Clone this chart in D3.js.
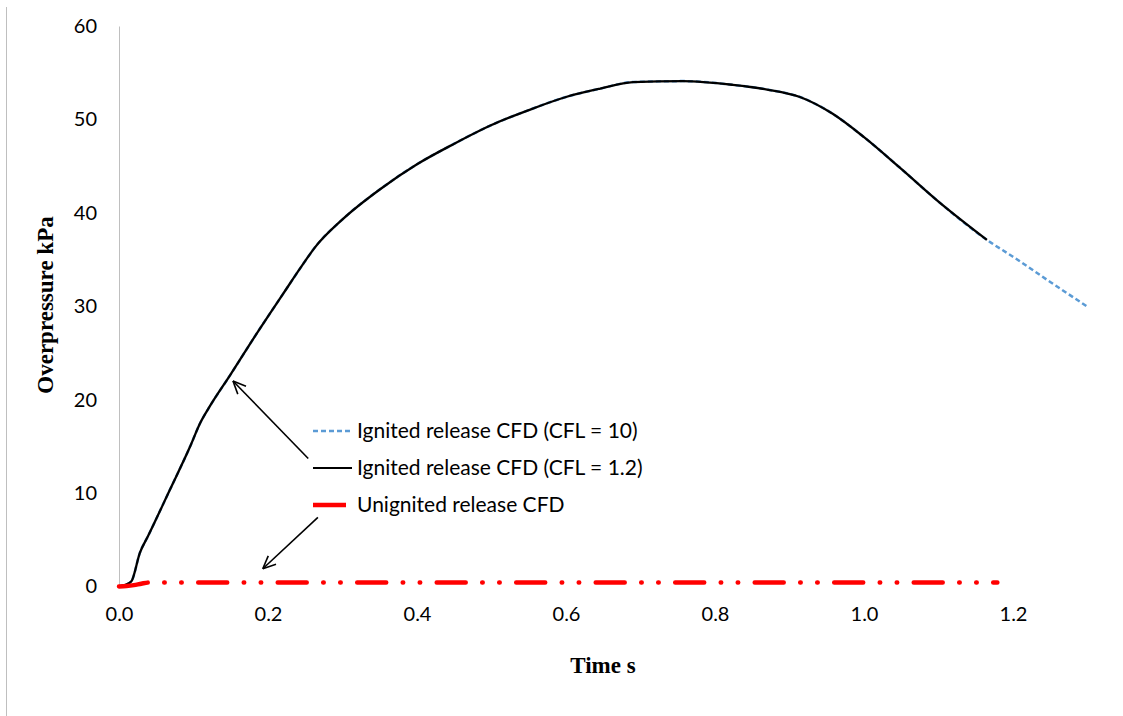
<!DOCTYPE html>
<html><head><meta charset="utf-8">
<script src="https://cdn.jsdelivr.net/npm/d3@7"></script>
<style>body{margin:0;background:#fff}</style>
</head><body>
<svg id="c" width="1123" height="716"></svg>
<script>
// ---- data ----
const timeCFL12  = [0, 0.012, 0.017, 0.028, 0.039, 0.068, 0.095, 0.109, 0.122, 0.149, 0.185, 0.220, 0.247, 0.262, 0.30, 0.35, 0.40, 0.45, 0.50, 0.55, 0.60, 0.646, 0.69, 0.757, 0.824, 0.87, 0.914, 0.958, 1.0, 1.05, 1.10, 1.165];
const pressCFL12 = [0, 0.3, 0.6, 3.6, 5.4, 10.3, 14.9, 17.5, 19.3, 22.6, 27.1, 31.3, 34.5, 36.2, 39.3, 42.5, 45.2, 47.4, 49.4, 51.0, 52.4, 53.3, 54.0, 54.1, 53.7, 53.2, 52.4, 50.6, 48.1, 44.7, 41.2, 37.1];
const timeCFL10  = timeCFL12.concat([1.20, 1.25, 1.301]);
const pressCFL10 = pressCFL12.concat([35.3, 32.6, 29.9]);
const timeUnign  = [0, 0.01, 0.02, 0.03, 0.04, 0.2, 0.4, 0.6, 0.8, 1.0, 1.179];
const pressUnign = [0, 0.05, 0.15, 0.3, 0.42, 0.44, 0.44, 0.44, 0.44, 0.43, 0.43];
const xTicks = [0, 0.2, 0.4, 0.6, 0.8, 1.0, 1.2];
const yTicks = [0, 10, 20, 30, 40, 50, 60];
const seriesNames = ["Ignited release CFD (CFL = 10)", "Ignited release CFD (CFL = 1.2)", "Unignited release CFD"];
const xTitle = "Time s";
const yTitle = "Overpressure kPa";
// annotation arrows in data space: [tailT, tailP, tipT, tipP]
const arrows = [[0.254, 13.7, 0.153, 22.0], [0.267, 7.4, 0.193, 1.9]];

// ---- layout ----
const svg = d3.select("#c");
const x = d3.scaleLinear().domain([0, 1.3]).range([119, 1087.5]);
const y = d3.scaleLinear().domain([0, 60]).range([586.5, 26]);
const font = "Lato, 'Open Sans', sans-serif";

// left frame edge
svg.append("line").attr("x1", 6.5).attr("x2", 6.5).attr("y1", 7).attr("y2", 716)
  .attr("stroke", "#bfbfbf").attr("stroke-width", 1);

// y axis
const yAxis = svg.append("g").attr("transform", `translate(${x(0)},0)`)
  .call(d3.axisLeft(y).tickValues(yTicks).tickSize(0).tickPadding(22).tickFormat(d3.format("d")));
yAxis.select(".domain").attr("stroke", "#bfbfbf").attr("stroke-width", 1);
yAxis.selectAll("text").attr("font-family", font).attr("font-size", 20).attr("fill", "#000");

// x axis (labels only)
const xAxis = svg.append("g").attr("transform", `translate(0,${y(0)})`)
  .call(d3.axisBottom(x).tickValues(xTicks).tickSize(0).tickPadding(20).tickFormat(d3.format(".1f")));
xAxis.select(".domain").remove();
xAxis.selectAll("text").attr("font-family", font).attr("font-size", 20).attr("fill", "#000");

// lines
const line = d3.line().x(d => x(d[0])).y(d => y(d[1])).curve(d3.curveMonotoneX);
const zip = (a, b) => a.map((v, i) => [v, b[i]]);

svg.append("path").datum(zip(timeCFL10, pressCFL10)).attr("d", line)
  .attr("fill", "none").attr("stroke", "#5b9bd5").attr("stroke-width", 2.5)
  .attr("stroke-dasharray", "5 3");
svg.append("path").datum(zip(timeCFL12, pressCFL12)).attr("d", line)
  .attr("fill", "none").attr("stroke", "#000").attr("stroke-width", 2.3);
svg.append("path").datum(zip(timeUnign, pressUnign)).attr("d", line)
  .attr("fill", "none").attr("stroke", "#ff0000").attr("stroke-width", 4.5)
  .attr("stroke-linecap", "round").attr("stroke-dasharray", "29 16.5 0.5 16.5 0.5 16.5");

// arrows
arrows.forEach(a => {
  const x1 = x(a[0]), y1 = y(a[1]), x2 = x(a[2]), y2 = y(a[3]);
  const ang = Math.atan2(y2 - y1, x2 - x1);
  const L = 14, s = 0.42;
  svg.append("line").attr("x1", x1).attr("y1", y1).attr("x2", x2).attr("y2", y2)
    .attr("stroke", "#000").attr("stroke-width", 1.6);
  [-s, s].forEach(o => {
    svg.append("line").attr("x1", x2).attr("y1", y2)
      .attr("x2", x2 - L * Math.cos(ang + o)).attr("y2", y2 - L * Math.sin(ang + o))
      .attr("stroke", "#000").attr("stroke-width", 1.6);
  });
});

// legend
const leg = svg.append("g");
const legY = [431, 468, 505];
const legStyle = [
  {stroke: "#5b9bd5", w: 2.5, dash: "5 3", x2: 353},
  {stroke: "#000", w: 2, dash: null, x2: 352},
  {stroke: "#ff0000", w: 4.5, dash: null, x2: 346}
];
seriesNames.forEach((n, i) => {
  leg.append("line").attr("x1", 313).attr("x2", legStyle[i].x2).attr("y1", legY[i]).attr("y2", legY[i])
    .attr("stroke", legStyle[i].stroke).attr("stroke-width", legStyle[i].w)
    .attr("stroke-dasharray", legStyle[i].dash);
  leg.append("text").attr("x", 357).attr("y", legY[i]).attr("dy", "0.35em")
    .attr("font-family", font).attr("font-size", 21).attr("fill", "#000").text(n);
});

// axis titles
svg.append("text").attr("x", 603).attr("y", 673).attr("text-anchor", "middle")
  .attr("font-family", "'Liberation Serif', 'Times New Roman', serif").attr("font-weight", "bold")
  .attr("font-size", 23).text(xTitle);
svg.append("text").attr("transform", "translate(53,305) rotate(-90)").attr("text-anchor", "middle")
  .attr("font-family", "'Liberation Serif', 'Times New Roman', serif").attr("font-weight", "bold")
  .attr("font-size", 23).text(yTitle);
</script>
</body></html>
